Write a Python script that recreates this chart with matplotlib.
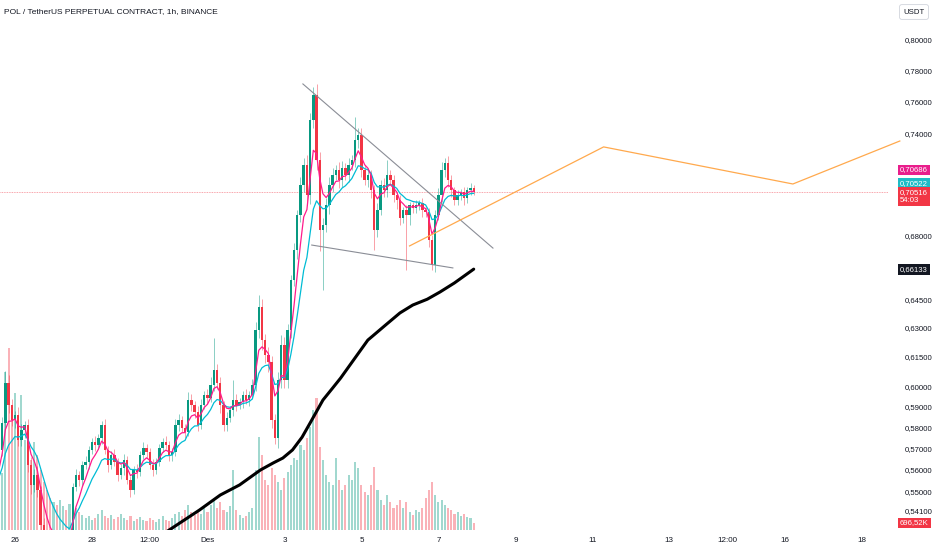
import numpy as np
import pandas as pd
import matplotlib
matplotlib.use("Agg")
import matplotlib.pyplot as plt
from matplotlib.ticker import FixedLocator, FuncFormatter, NullLocator

plt.rcParams['font.family'] = ['Liberation Sans Narrow', 'Liberation Sans', 'DejaVu Sans']

# ---- data (2h candles) ----
t0 = pd.Timestamp("2024-11-26 00:00")
first_candle = "2024-11-25 08:00"
first_open = 0.5500

closes = [
    0.5520, 0.5560, 0.5600, 0.5691,
    0.5820, 0.6016, 0.5908, 0.5834, 0.5859, 0.5738, 0.5786, 0.5810, 0.5620, 0.5528,
    0.5574, 0.5505, 0.5347, 0.5290, 0.5265, 0.5250, 0.5262, 0.5245, 0.5255, 0.5270,
    0.5258, 0.5280, 0.5519, 0.5574, 0.5551, 0.5620, 0.5634, 0.5691, 0.5729, 0.5714,
    0.5748, 0.5810, 0.5691, 0.5620, 0.5667, 0.5634, 0.5574, 0.5606, 0.5644, 0.5551,
    0.5505, 0.5597, 0.5588, 0.5667, 0.5700, 0.5681, 0.5620, 0.5597, 0.5634, 0.5700,
    0.5729, 0.5714, 0.5667, 0.5681, 0.5810, 0.5834, 0.5796, 0.5776, 0.5932, 0.5908,
    0.5873, 0.5810, 0.5908, 0.5957, 0.5942, 0.6006, 0.6082, 0.6016, 0.5908, 0.5810,
    0.5844, 0.5883, 0.5932, 0.5908, 0.5922, 0.5957, 0.5932, 0.5957, 0.6006, 0.6287,
    0.6409, 0.6235, 0.6158, 0.6122, 0.5834, 0.5748, 0.6031, 0.6209, 0.6031, 0.6287,
    0.6553, 0.6719, 0.6918, 0.7092, 0.7211, 0.7033, 0.7486, 0.7643, 0.7241, 0.6832,
    0.6860, 0.6975, 0.7092, 0.7151, 0.7181, 0.7122, 0.7193, 0.7151, 0.7211, 0.7241,
    0.7362, 0.7393, 0.7181, 0.7122, 0.7151, 0.7063, 0.6832, 0.6946, 0.7092, 0.7063,
    0.7151, 0.7122, 0.7033, 0.7004, 0.6900, 0.6946, 0.6918, 0.6975, 0.6958, 0.6975,
    0.6987, 0.6946, 0.6935, 0.6775, 0.6636, 0.6918, 0.7033, 0.7181, 0.7223, 0.7122,
    0.7063, 0.7004, 0.7033, 0.7051, 0.7016, 0.7063, 0.7074, 0.70516,
]

wick_up = [
    .002, .002, .003, .002,
    .003, .006, .004, .003, .002, .004, .003, .002, .003, .004,
    .003, .004, .002, .003, .002, .003, .002, .002, .003, .002,
    .002, .003, .002, .003, .002, .002, .003, .002, .002, .003,
    .002, .002, .003, .002, .002, .003, .002, .002, .003, .002,
    .002, .002, .003, .002, .003, .002, .002, .003, .002, .002,
    .002, .003, .002, .002, .003, .003, .002, .002, .004, .003,
    .002, .003, .003, .002, .003, .004, .0164, .003, .003, .002,
    .003, .002, .0099, .003, .002, .002, .003, .002, .003, .004,
    .0064, .004, .003, .004, .003, .003, .004, .005, .004, .003,
    .003, .004, .003, .005, .004, .006, .004, .0051, .007, .005,
    .004, .004, .005, .004, .003, .005, .004, .003, .004, .003,
    .0142, .004, .004, .003, .004, .003, .003, .004, .003, .004,
    .009, .003, .003, .002, .003, .002, .003, .002, .002, .003,
    .002, .003, .002, .002, .003, .003, .004, .005, .003, .004,
    .003, .002, .003, .002, .003, .002, .003, .002,
]

wick_dn = [
    .002, .002, .002, .003,
    .003, .003, .004, .003, .004, .003, .003, .004, .003, .004,
    .003, .003, .004, .004, .003, .003, .004, .003, .003, .002,
    .003, .004, .003, .002, .003, .003, .002, .003, .002, .003,
    .002, .003, .002, .003, .002, .002, .003, .002, .003, .002,
    .0032, .002, .003, .002, .002, .003, .002, .003, .002, .002,
    .002, .002, .003, .003, .002, .003, .002, .003, .002, .003,
    .003, .003, .002, .002, .003, .002, .003, .003, .004, .003,
    .003, .002, .003, .003, .002, .003, .002, .003, .002, .003,
    .004, .005, .004, .005, .004, .003, .005, .004, .004, .004,
    .004, .003, .005, .004, .004, .006, .005, .005, .006, .012,
    .0332, .004, .005, .004, .003, .005, .004, .003, .004, .003,
    .004, .005, .004, .003, .004, .005, .0113, .004, .003, .004,
    .004, .003, .004, .005, .004, .003, .0309, .006, .003, .003,
    .003, .004, .003, .004, .0027, .004, .003, .004, .004, .004,
    .004, .003, .003, .003, .004, .003, .003, .002,
]

# volume in K per 2h candle
volumes = [
    9000, 10000, 12000, 14000,
    11400, 31600, 36400, 24000, 27400, 22000, 27000, 18000, 16000, 14000,
    17600, 15000, 12000, 9600, 8000, 6400, 5600, 5000, 6000, 4800,
    4000, 5200, 6000, 4400, 3600, 3000, 2400, 2800, 2000, 2400,
    3200, 4000, 2800, 2400, 3000, 2200, 2600, 3200, 2400, 2000,
    2800, 1800, 2200, 2600, 2000, 1800, 2400, 2000, 1600, 2200,
    2800, 2000, 1800, 2400, 3200, 3600, 2800, 4000, 5000, 3600,
    3000, 4000, 3200, 4400, 3600, 5000, 6000, 4400, 5600, 4000,
    3600, 4800, 12000, 4000, 3000, 2400, 2800, 3600, 4400, 12000,
    18600, 15000, 10000, 9000, 12400, 11000, 9600, 8000, 10400, 11600,
    13000, 14400, 14000, 17000, 16000, 18400, 20600, 24000, 26400, 16600,
    14000, 11000, 9600, 9000, 14400, 10000, 8000, 9000, 11000, 10000,
    13600, 12400, 9000, 7600, 7000, 9000, 12600, 8000, 6000, 5000,
    7000, 5600, 4400, 5000, 6000, 4400, 5600, 3600, 3000, 4000,
    3600, 4400, 6400, 8000, 9600, 7000, 5600, 6000, 5000, 4400,
    4000, 3200, 3600, 2800, 3200, 2600, 2400, 1400,
]

# 200-period MA (black), read as points
ma_times = ['2024-11-29 22:00', '2024-11-30 19:00', '2024-12-01 08:00', '2024-12-01 20:00',
            '2024-12-02 09:00', '2024-12-02 17:00', '2024-12-02 23:00', '2024-12-03 05:00',
            '2024-12-03 11:00', '2024-12-03 16:00', '2024-12-04 00:00', '2024-12-04 06:00',
            '2024-12-04 11:00', '2024-12-04 20:00', '2024-12-05 04:00', '2024-12-05 07:00',
            '2024-12-05 15:00', '2024-12-06 00:00', '2024-12-06 08:00', '2024-12-06 17:00',
            '2024-12-07 01:00', '2024-12-07 10:00', '2024-12-07 22:00']
ma_values = [0.5315, 0.5414, 0.5482, 0.5528, 0.5597, 0.5630, 0.5653, 0.5691,
             0.5752, 0.5820, 0.5932, 0.5991, 0.6041, 0.6143, 0.6235, 0.6256,
             0.6313, 0.6377, 0.6419, 0.6450, 0.6489, 0.6538, 0.66133]

# drawings
upper_line_times = ['2024-12-03 11:30', '2024-12-08 10:00']
upper_line_values = [0.7713, 0.6730]
lower_line_times = ['2024-12-03 17:00', '2024-12-07 09:00']
lower_line_values = [0.6747, 0.6620]
proj_times = ['2024-12-06 06:00', '2024-12-11 07:00', '2024-12-16 05:00', '2024-12-18 23:40']
proj_values = [0.6742, 0.7320, 0.7098, 0.7356]

price_ticks = [0.80, 0.78, 0.76, 0.74, 0.68, 0.645, 0.63, 0.615, 0.60,
               0.59, 0.58, 0.57, 0.56, 0.55, 0.541]
xtick_times = ['2024-11-26 00:00', '2024-11-28 00:00', '2024-11-29 12:00', '2024-12-01 00:00',
               '2024-12-03 00:00', '2024-12-05 00:00', '2024-12-07 00:00', '2024-12-09 00:00',
               '2024-12-11 00:00', '2024-12-13 00:00', '2024-12-14 12:00', '2024-12-16 00:00',
               '2024-12-18 00:00']
xtick_labels = ['26', '28', '12:00', 'Des', '3', '5', '7', '9', '11', '13', '12:00', '16', '18']

last_price = 0.70516
ema_fast_last = 0.70686
ema_slow_last = 0.70522
ma_last = 0.66133
last_volume_k = 696.52
countdown = "54:03"
title = "POL / TetherUS PERPETUAL CONTRACT, 1h, BINANCE"

GREEN = '#089981'
RED = '#f23645'


def hours(ts):
    return ((pd.to_datetime(ts, format='mixed') - t0) / pd.Timedelta('1h')).to_numpy(dtype=float)


times = pd.date_range(first_candle, periods=len(closes), freq='2h')
x = ((times - t0) / pd.Timedelta('1h')).to_numpy(dtype=float)
c = np.array(closes)
o = np.array([first_open] + closes[:-1])
hi = np.maximum(o, c) + np.array(wick_up)
lo = np.minimum(o, c) - np.array(wick_dn)
rising = c >= o
col = np.where(rising, GREEN, RED)

ema_fast = pd.Series(closes).ewm(span=5, adjust=False).mean()
ema_slow = pd.Series(closes).ewm(span=11, adjust=False).mean()

fig = plt.figure(figsize=(9.32, 5.5), dpi=100)
rect = [0, 20 / 550, 888 / 932, 530 / 550]
xlim = (-9.35, 544.3)

# volume underneath
vax = fig.add_axes(rect)
vax.bar(x, volumes, width=1.3, color=np.where(rising, GREEN, RED), alpha=0.38, linewidth=0)
vax.set_xlim(*xlim)
vax.set_ylim(0, 106000)
vax.set_axis_off()

ax = fig.add_axes(rect)
ax.patch.set_alpha(0)
ax.set_yscale('log')
ax.set_xlim(*xlim)
ax.set_ylim(0.5325, 0.8270)

ax.vlines(x, lo, hi, colors=col, linewidth=0.6, alpha=0.55, zorder=2)
ax.bar(x, np.maximum(np.abs(c - o), 0.0004), bottom=np.minimum(o, c), width=1.5,
       color=col, linewidth=0, zorder=3)

ax.plot(x, ema_slow, color='#00bcd4', lw=0.9, zorder=4)
ax.plot(x, ema_fast, color='#ff1a8c', lw=0.9, zorder=5)
ax.plot(hours(ma_times), ma_values, color='black', lw=2.2, zorder=4,
        solid_capstyle='round', solid_joinstyle='round')

ax.plot(hours(upper_line_times), upper_line_values, color='#8a8d96', lw=0.8, zorder=6)
ax.plot(hours(lower_line_times), lower_line_values, color='#8a8d96', lw=0.8, zorder=6)
ax.plot(hours(proj_times), proj_values, color='#ffa94d', lw=0.9, zorder=6, clip_on=False)

ax.axhline(last_price, color=RED, lw=0.6, alpha=0.6, linestyle=(0, (1, 1)), zorder=1)

# axes styling
for s in ax.spines.values():
    s.set_visible(False)
ax.yaxis.tick_right()
ax.yaxis.set_major_locator(FixedLocator(price_ticks))
ax.yaxis.set_minor_locator(NullLocator())
ax.yaxis.set_major_formatter(FuncFormatter(lambda v, p: f"{v:.5f}".replace('.', ',')))
ax.tick_params(axis='y', length=0, pad=12, labelsize=5.6, labelcolor='#131722')
ax.set_xticks(hours(xtick_times))
ax.set_xticklabels(xtick_labels)
ax.tick_params(axis='x', length=0, pad=5, labelsize=5.8, labelcolor='#131722')


def tag(value, text, face, dy_px, fg='white'):
    ax.annotate(text, xy=(1, value), xycoords=('axes fraction', 'data'),
                xytext=(12 * 0.72, dy_px * 0.72), textcoords='offset points',
                ha='left', va='center', fontsize=5.6, color=fg, annotation_clip=False,
                bbox=dict(boxstyle='square,pad=0.25', fc=face, ec='none'))


fmt = lambda v: f"{v:.5f}".replace('.', ',')
tag(ema_fast_last, fmt(ema_fast_last), '#e91e8c', 19)
tag(ema_slow_last, fmt(ema_slow_last), '#1fbcc6', 8)
tag(last_price, fmt(last_price) + "\n" + countdown, RED, -5)
tag(ma_last, fmt(ma_last), '#131722', 0)

vax.annotate(f"{last_volume_k:.2f}K".replace('.', ','), xy=(1, volumes[-1]),
             xycoords=('axes fraction', 'data'), xytext=(12 * 0.72, 0), textcoords='offset points',
             ha='left', va='center', fontsize=5.6, color='white', annotation_clip=False,
             bbox=dict(boxstyle='square,pad=0.25', fc=RED, ec='none'))

fig.text(4 / 932, 1 - 12 / 550, title, fontsize=6, color='#131722', va='center', ha='left')
fig.text(914 / 932, 1 - 12 / 550, "USDT", fontsize=5.6, color='#131722', va='center', ha='center',
         bbox=dict(boxstyle='round,pad=0.5,rounding_size=0.3', fc='white', ec='#d1d4dc', lw=0.6))

fig.savefig('out.png', dpi=100)
